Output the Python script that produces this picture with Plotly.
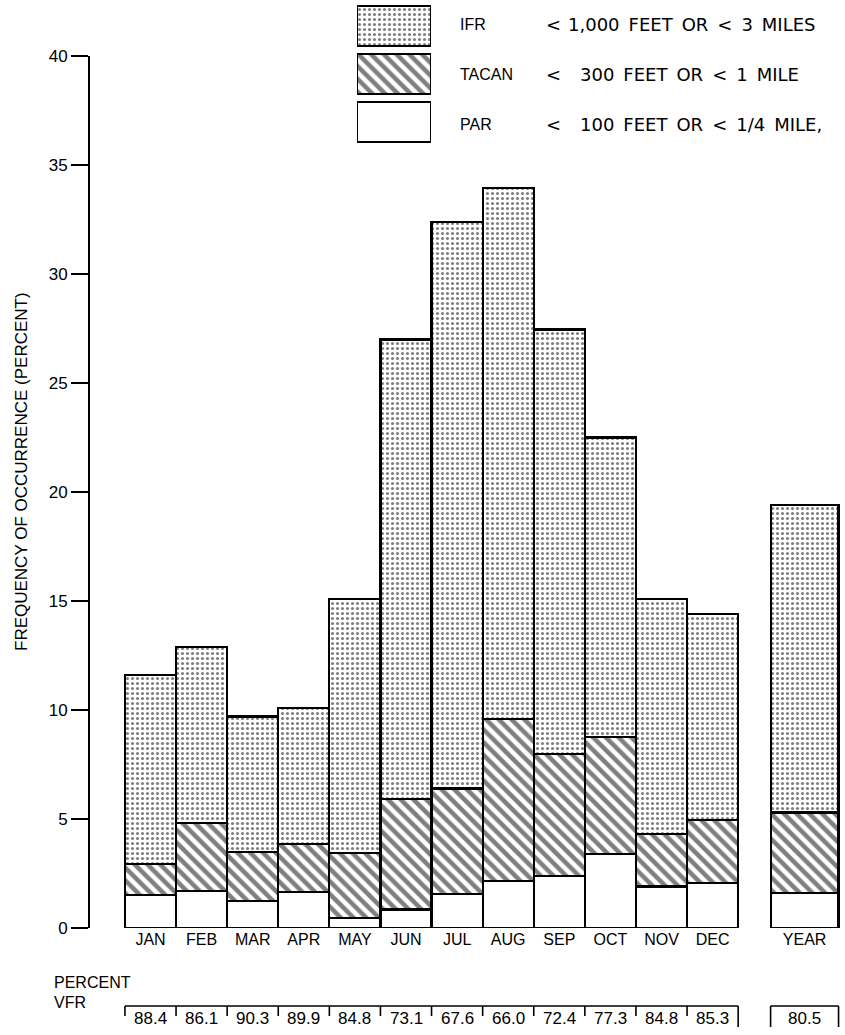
import plotly.graph_objects as go

W, H = 845, 1035

# ---- data ----
categories = ["JAN", "FEB", "MAR", "APR", "MAY", "JUN", "JUL", "AUG", "SEP", "OCT", "NOV", "DEC", "YEAR"]
par_top    = [1.5, 1.7, 1.25, 1.65, 0.45, 0.85, 1.55, 2.15, 2.4, 3.4, 1.9, 2.05, 1.6]
tacan_top  = [2.95, 4.8, 3.5, 3.85, 3.45, 5.9, 6.4, 9.6, 8.0, 8.75, 4.3, 4.95, 5.3]
ifr_top    = [11.6, 12.9, 9.7, 10.1, 15.1, 27.0, 32.4, 33.95, 27.45, 22.5, 15.1, 14.4, 19.4]
pct_vfr    = [88.4, 86.1, 90.3, 89.9, 84.8, 73.1, 67.6, 66.0, 72.4, 77.3, 84.8, 85.3, 80.5]

legend_names = ["IFR", "TACAN", "PAR"]
legend_limits = ["1,000 FEET OR < 3 MILES", "300 FEET OR < 1 MILE", "100 FEET OR < 1/4 MILE,"]

# ---- layout helpers ----
n_month = 12
xpos = list(range(n_month)) + [n_month + 0.8]
widths = [1.0] * n_month + [1.33]

par_seg = par_top
tacan_seg = [t - p for t, p in zip(tacan_top, par_top)]
ifr_seg = [i - t for i, t in zip(ifr_top, tacan_top)]

FONT = "Liberation Sans, Arial, sans-serif"
WIDE = "DejaVu Sans, Liberation Sans, sans-serif"
LINE = dict(color="black", width=2.2)
pat_dots = dict(shape=".", size=5, solidity=0.3, fgcolor="black", bgcolor="white")
pat_hatch = dict(shape="\\", size=9, solidity=0.5, fgcolor="black", bgcolor="white")


def wide_text(s):
    # escape and widen word gaps (en space) to mimic the typeset spacing
    s = s.replace("<", "&lt;")
    return s.replace(" ", "\u2002")


fig = go.Figure()
fig.add_bar(x=xpos, y=par_seg, width=widths, name="PAR",
            marker=dict(color="white", line=LINE))
fig.add_bar(x=xpos, y=tacan_seg, width=widths, name="TACAN",
            marker=dict(color="white", line=LINE, pattern=pat_hatch))
fig.add_bar(x=xpos, y=ifr_seg, width=widths, name="IFR",
            marker=dict(color="white", line=LINE, pattern=pat_dots))

# legend swatches on an overlay axis
sw_pats = [pat_dots, pat_hatch, None]
for k, (nm, pat) in enumerate(zip(legend_names, sw_pats)):
    mk = dict(color="white", line=LINE)
    if pat:
        mk["pattern"] = pat
    fig.add_bar(x=[1], y=[2 - k], base=[0], orientation="h", width=0.83,
                xaxis="x2", yaxis="y2", marker=mk, showlegend=False, hoverinfo="skip")

px_l, px_bot, px_top = 90, 928, 56
slot = 51.1
x0 = (px_l - 150.5) / slot
x1 = (W - 150.5) / slot

fig.update_layout(
    width=W, height=H, autosize=False,
    margin=dict(l=0, r=0, t=0, b=0, pad=0),
    paper_bgcolor="white", plot_bgcolor="white",
    barmode="stack", bargap=0, showlegend=False,
    font=dict(family=FONT, size=16, color="black"),
    xaxis=dict(domain=[px_l / W, 1], range=[x0, x1], showgrid=False, zeroline=False,
               showline=False, ticks="", tickvals=xpos, ticktext=categories,
               tickfont=dict(size=16), automargin=False, fixedrange=True),
    yaxis=dict(domain=[1 - px_bot / H, 1 - px_top / H], range=[0, 40], dtick=5,
               showgrid=False, zeroline=False, showline=True, linecolor="black", linewidth=2,
               ticks="outside", ticklen=17, tickwidth=2, tickcolor="black",
               tickfont=dict(size=17), automargin=False, fixedrange=True),
    xaxis2=dict(domain=[357 / W, 431 / W], range=[0, 1], visible=False, anchor="y2",
                automargin=False),
    yaxis2=dict(domain=[1 - 146 / H, 1 - 2 / H], range=[-0.5, 2.5], visible=False, anchor="x2",
                automargin=False),
)

ann = []
ann.append(dict(text="FREQUENCY OF OCCURRENCE (PERCENT)", x=21 / W, y=1 - 472 / H,
                xref="paper", yref="paper", textangle=-90, showarrow=False,
                font=dict(size=17), xanchor="center", yanchor="middle"))
# legend texts
for k, (nm, lim) in enumerate(zip(legend_names, legend_limits)):
    yc = 1 - (24 + 50 * k) / H
    ann.append(dict(text=nm, x=458 / W, y=yc, xref="paper", yref="paper", showarrow=False,
                    xanchor="left", yanchor="middle", font=dict(size=16)))
    ann.append(dict(text="&lt;", x=544 / W, y=yc, xref="paper", yref="paper", showarrow=False,
                    xanchor="left", yanchor="middle", font=dict(size=18, family=WIDE)))
    ann.append(dict(text=wide_text(lim), x=(566 if k == 0 else 578) / W, y=yc,
                    xref="paper", yref="paper", showarrow=False, xanchor="left",
                    yanchor="middle", font=dict(size=18, family=WIDE)))
# percent VFR
ann.append(dict(text="PERCENT", x=52 / W, y=1 - 993 / H, xref="paper", yref="paper",
                showarrow=False, font=dict(size=16)))
ann.append(dict(text="VFR", x=52 / W, y=1 - 1013 / H, xref="paper", yref="paper",
                showarrow=False, font=dict(size=16)))
for xp, v in zip(xpos, pct_vfr):
    ann.append(dict(text=f"{v:.1f}", x=xp, y=1 - 1018 / H, xref="x", yref="paper",
                    showarrow=False, font=dict(size=17), yanchor="middle"))
fig.update_layout(annotations=ann)

shapes = []
ytop = 1 - 1006 / H
yshort = 1 - 1016 / H
ylong = 1 - 1027 / H
bl = dict(color="black", width=1.6)
# months bracket
shapes.append(dict(type="line", xref="x", yref="paper", x0=xpos[0] - 0.5, x1=xpos[n_month - 1] + 0.5,
                   y0=ytop, y1=ytop, line=bl))
for i in range(n_month):
    shapes.append(dict(type="line", xref="x", yref="paper", x0=xpos[i] - 0.5, x1=xpos[i] - 0.5,
                       y0=ytop, y1=yshort, line=bl))
shapes.append(dict(type="line", xref="x", yref="paper", x0=xpos[n_month - 1] + 0.5, x1=xpos[n_month - 1] + 0.5,
                   y0=ytop, y1=ylong, line=bl))
# year bracket
yl, yr = xpos[-1] - widths[-1] / 2, xpos[-1] + widths[-1] / 2
shapes.append(dict(type="line", xref="x", yref="paper", x0=yl, x1=yr, y0=ytop, y1=ytop, line=bl))
for xx in (yl, yr):
    shapes.append(dict(type="line", xref="x", yref="paper", x0=xx, x1=xx, y0=ytop, y1=ylong, line=bl))
fig.update_layout(shapes=shapes)

fig.write_html("out.html", config={"displayModeBar": False, "staticPlot": True},
               post_script="document.body.style.margin='0';document.body.style.overflow='hidden';")
